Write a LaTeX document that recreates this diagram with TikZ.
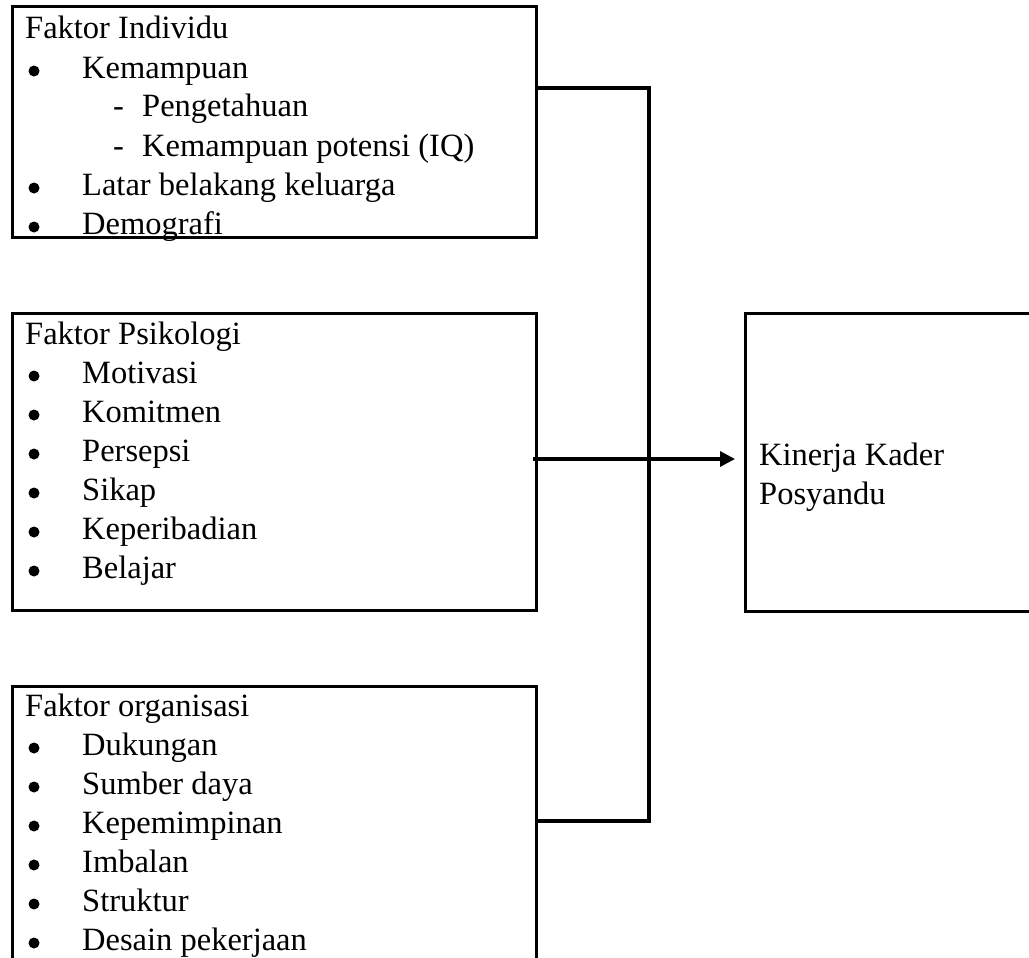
\documentclass[tikz,border=0pt]{standalone}
\usepackage{fontspec}
\setmainfont{Liberation Serif}
\usetikzlibrary{arrows.meta}
\begin{document}
\begin{tikzpicture}[x=1pt,y=-1pt,
  box/.style={draw,line width=3.2pt,rectangle,inner sep=0pt,anchor=north west},
  line/.style={line width=3.2pt},
  txt/.style={anchor=base west,inner sep=0pt,font=\fontsize{32.5}{38}\selectfont},
  dot/.style={circle,fill,inner sep=0pt,minimum size=11pt}]
\useasboundingbox (0,0) rectangle (1029,958);
% boxes
\node[box,minimum width=524pt,minimum height=231pt] (b1) at (11,5) {};
\node[box,minimum width=524pt,minimum height=297pt] (b2) at (11,312) {};
\node[box,minimum width=524pt,minimum height=280pt] (b3) at (11,685) {};
\node[box,minimum width=290pt,minimum height=298pt] (b4) at (744,312) {};
% box 1 text
\node[txt] (t10) at (25,39) {Faktor Individu};
\node[dot] (d11) at (34,71) {};
\node[txt] (t11) at (82,78) {Kemampuan};
\node[txt] (s11) at (113,117) {-};
\node[txt] (t12) at (142,117) {Pengetahuan};
\node[txt] (s12) at (113,156) {-};
\node[txt] (t13) at (142,156) {Kemampuan potensi (IQ)};
\node[dot] (d14) at (34,188) {};
\node[txt] (t14) at (82,195) {Latar belakang keluarga};
\node[dot] (d15) at (34,227) {};
\node[txt] (t15) at (82,234) {Demografi};
% box 2 text
\node[txt] (t20) at (25,344) {Faktor Psikologi};
\foreach \y/\t [count=\i] in {383/Motivasi,422/Komitmen,461/Persepsi,500/Sikap,539/Keperibadian,578/Belajar}{
  \node[dot] (d2\i) at (34,\y-7) {};
  \node[txt] (t2\i) at (82,\y) {\t};
}
% box 3 text
\node[txt] (t30) at (25,716) {Faktor organisasi};
\foreach \y/\t [count=\i] in {755/Dukungan,794/Sumber daya,833/Kepemimpinan,872/Imbalan,911/Struktur,950/Desain pekerjaan}{
  \node[dot] (d3\i) at (34,\y-7) {};
  \node[txt] (t3\i) at (82,\y) {\t};
}
% box 4 text
\node[txt] (t40) at (759,465) {Kinerja Kader};
\node[txt] (t41) at (759,504) {Posyandu};
% connectors
\coordinate (jt) at (649,88);
\coordinate (jb) at (649,821);
\coordinate (as) at (533,459);
\draw[line] (b1.east |- jt) -- (jt) -- (jb) -- (b3.east |- jb);
\draw[line,-{Triangle[length=15pt,width=15pt]}] (as) -- (b4.west |- as) [shorten >=9pt];
\end{tikzpicture}
\end{document}
